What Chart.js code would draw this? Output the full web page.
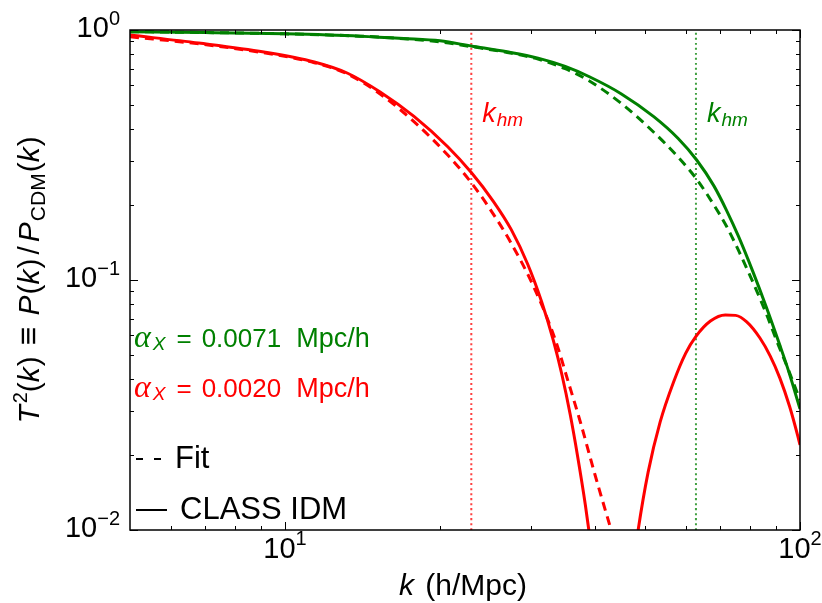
<!DOCTYPE html>
<html>
<head>
<meta charset="utf-8">
<script src="https://cdn.jsdelivr.net/npm/chart.js@4.4.0/dist/chart.umd.min.js"></script>
<style>
html, body { margin: 0; padding: 0; background: #fff; }
canvas { display: block; }
</style>
</head>
<body>
<canvas id="myChart" width="822" height="603"></canvas>
<script>
// values (k in h/Mpc, T^2 dimensionless)
var kGreenClass = [5, 7, 10, 14, 17, 20, 23, 27, 31, 35, 39, 45, 52, 58, 63, 68, 72, 76, 81, 86, 91.4, 95, 100];
var tGreenClass = [0.985, 0.977, 0.965, 0.945, 0.925, 0.905, 0.863, 0.818, 0.772, 0.715, 0.65, 0.555, 0.45, 0.368, 0.302, 0.2385, 0.19, 0.149, 0.108, 0.078, 0.0548, 0.0433, 0.0305];

var kGreenFit = [5, 7, 10, 14, 17, 20, 23, 27, 31, 35, 39, 45, 52, 58, 63, 68, 72, 76, 80.5, 86, 90.2, 95, 100];
var tGreenFit = [0.985, 0.977, 0.965, 0.945, 0.923, 0.897, 0.858, 0.813, 0.765, 0.70, 0.625, 0.508, 0.39, 0.31, 0.253, 0.2, 0.164, 0.131, 0.101, 0.0733, 0.0568, 0.0436, 0.0331];

// CLASS red curve crosses zero near k~43, so it is split by a null
var kRedClass = [5, 6.8, 9.1, 11.4, 13.2, 15.3, 17.8, 20.7, 23, 25.4, 27.5, 29.6, 31.5, 33.2, 34.5, 35.8, 37, 38.3, 39,
                 43,
                 47.8, 48.5, 50.7, 53.5, 56.8, 60, 62.8, 67, 71.6, 75, 78.8, 83.6, 87.5, 91.4, 95.5, 99, 100];
var tRedClass = [0.955, 0.887, 0.817, 0.745, 0.673, 0.565, 0.451, 0.341, 0.269, 0.206, 0.159, 0.1156, 0.0818, 0.0572, 0.0417, 0.0289, 0.0197, 0.0126, 0.0096,
                 null,
                 0.008, 0.01, 0.017, 0.027, 0.039, 0.051, 0.0595, 0.0685, 0.0725, 0.0722, 0.068, 0.0586, 0.0497, 0.0405, 0.0311, 0.0238, 0.0219];

var kRedFit = [5, 6.8, 9.1, 11.4, 13.2, 15.3, 17.8, 20.7, 23, 25.1, 27.4, 30.4, 33.5, 35.5, 37.5, 40, 42.8, 44];
var tRedFit = [0.94, 0.88, 0.81, 0.74, 0.668, 0.555, 0.43, 0.316, 0.245, 0.19, 0.142, 0.094, 0.0575, 0.039, 0.0268, 0.0166, 0.0103, 0.0085];

// half-mode wavenumbers (dotted lines)
var kHalfMode = [23, 62.8];
var halfModeColors = ['rgba(255,0,0,0.75)', 'rgba(0,128,0,0.75)'];

// axis ticks
var xMajor = [10, 100];
var xMajorExp = ['1', '2'];
var yMajor = [0.01, 0.1, 1];
var yMajorExp = ['\u22122', '\u22121', '0'];

var alphaValues = ['0.0071', '0.0020'];

var RED = '#ff0000';
var GREEN = '#008000';
var SANS = '"Liberation Sans", Arial, Helvetica, sans-serif';
var SERIF = '"Liberation Serif", "DejaVu Serif", serif';

function zip(ks, ts) {
    return ks.map(function (k, i) { return { x: k, y: ts[i] }; });
}

function fnt(size, italic, fam) {
    return (italic ? 'italic ' : '') + size + 'px ' + (fam || SANS);
}

function richWidth(ctx, parts) {
    var w = 0;
    parts.forEach(function (p) {
        ctx.font = p.f;
        w += ctx.measureText(p.t).width + (p.gap || 0);
    });
    return w;
}

function drawRich(ctx, parts, x, y, align, color) {
    var w = richWidth(ctx, parts);
    var cx = align === 'center' ? x - w / 2 : (align === 'right' ? x - w : x);
    ctx.textAlign = 'left';
    ctx.textBaseline = 'alphabetic';
    parts.forEach(function (p) {
        ctx.font = p.f;
        ctx.fillStyle = p.c || color;
        ctx.fillText(p.t, cx, y + (p.dy || 0));
        cx += ctx.measureText(p.t).width + (p.gap || 0);
    });
}

function minorValues(min, max) {
    var out = [];
    for (var d = Math.pow(10, Math.floor(Math.log10(min))); d < max; d *= 10) {
        for (var m = 2; m <= 9; m++) {
            var v = d * m;
            if (v > min * 1.0001 && v < max * 0.9999) out.push(v);
        }
    }
    return out;
}

var decorations = {
    id: 'decorations',
    afterDraw: function (chart) {
        var ctx = chart.ctx;
        var a = chart.chartArea;
        var xs = chart.scales.x;
        var ys = chart.scales.y;
        ctx.save();

        // ticks pointing inward on all four sides
        ctx.strokeStyle = '#000';
        ctx.lineWidth = 1;
        ctx.beginPath();
        function xTick(v, len) {
            var px = Math.round(xs.getPixelForValue(v)) + 0.5;
            ctx.moveTo(px, a.bottom); ctx.lineTo(px, a.bottom - len);
            ctx.moveTo(px, a.top); ctx.lineTo(px, a.top + len);
        }
        function yTick(v, len) {
            var py = Math.round(ys.getPixelForValue(v)) + 0.5;
            ctx.moveTo(a.left, py); ctx.lineTo(a.left + len, py);
            ctx.moveTo(a.right, py); ctx.lineTo(a.right - len, py);
        }
        xMajor.forEach(function (v) { xTick(v, 8); });
        minorValues(5, 100).forEach(function (v) { xTick(v, 4); });
        yMajor.forEach(function (v) { yTick(v, 8); });
        minorValues(0.01, 1).forEach(function (v) { yTick(v, 4); });
        ctx.stroke();

        // frame
        ctx.lineWidth = 1.5;
        ctx.strokeRect(a.left, a.top, a.right - a.left, a.bottom - a.top);

        // tick labels
        xMajor.forEach(function (v, i) {
            drawRich(ctx, [
                { t: '10', f: fnt(29) },
                { t: xMajorExp[i], f: fnt(20), dy: -13 }
            ], xs.getPixelForValue(v), a.bottom + 28, 'center', '#000');
        });
        yMajor.forEach(function (v, i) {
            drawRich(ctx, [
                { t: '10', f: fnt(29) },
                { t: yMajorExp[i], f: fnt(20), dy: -12 }
            ], a.left - 10, ys.getPixelForValue(v) + 7, 'right', '#000');
        });

        // x title
        drawRich(ctx, [
            { t: 'k', f: fnt(30, true), gap: 3 },
            { t: ' (h/Mpc)', f: fnt(30) }
        ], (a.left + a.right) / 2 - 2, 595, 'center', '#000');

        // y title, rotated
        ctx.save();
        ctx.translate(39, (a.top + a.bottom) / 2);
        ctx.rotate(-Math.PI / 2);
        drawRich(ctx, [
            { t: 'T', f: fnt(30, true), gap: 2 },
            { t: '2', f: fnt(20), dy: -12 },
            { t: '(', f: fnt(30) },
            { t: 'k', f: fnt(30, true), gap: 1 },
            { t: ')', f: fnt(30), gap: 11 },
            { t: '\u2261', f: fnt(32), gap: 11 },
            { t: 'P', f: fnt(30, true), gap: 1 },
            { t: '(', f: fnt(30) },
            { t: 'k', f: fnt(30, true), gap: 1 },
            { t: ')', f: fnt(30), gap: 4 },
            { t: '/', f: fnt(30), gap: 4 },
            { t: 'P', f: fnt(30, true), gap: 1 },
            { t: 'CDM', f: fnt(21), dy: 6, gap: 1 },
            { t: '(', f: fnt(30) },
            { t: 'k', f: fnt(30, true), gap: 1 },
            { t: ')', f: fnt(30) }
        ], 0, 0, 'center', '#000');
        ctx.restore();

        // k_hm labels next to the dotted lines
        kHalfMode.forEach(function (k, i) {
            var c = i === 0 ? RED : GREEN;
            drawRich(ctx, [
                { t: 'k', f: fnt(27, true), gap: 1 },
                { t: 'hm', f: fnt(19, true), dy: 4 }
            ], xs.getPixelForValue(k) + 11, 122, 'left', c);
        });

        // alpha_X labels
        [GREEN, RED].forEach(function (c, i) {
            drawRich(ctx, [
                { t: '\u03b1', f: fnt(32, true, SERIF), gap: 2 },
                { t: 'X', f: fnt(19, true), dy: 3, gap: 11 },
                { t: '=', f: fnt(26), gap: 10 },
                { t: alphaValues[i], f: fnt(26), gap: 15 },
                { t: 'Mpc/h', f: fnt(27) }
            ], 134, 347 + i * 50, 'left', c);
        });

        // legend
        ctx.strokeStyle = '#000';
        ctx.lineWidth = 2;
        ctx.setLineDash([7, 11]);
        ctx.beginPath();
        ctx.moveTo(136, 459); ctx.lineTo(166, 459);
        ctx.stroke();
        ctx.setLineDash([]);
        ctx.beginPath();
        ctx.moveTo(136, 510); ctx.lineTo(167, 510);
        ctx.stroke();
        drawRich(ctx, [{ t: 'Fit', f: fnt(31) }], 175, 468, 'left', '#000');
        drawRich(ctx, [{ t: 'CLASS IDM', f: fnt(31) }], 180, 519, 'left', '#000');

        ctx.restore();
    }
};

var datasets = [
    { data: zip(kGreenClass, tGreenClass), borderColor: GREEN, borderWidth: 3 },
    { data: zip(kGreenFit, tGreenFit), borderColor: GREEN, borderWidth: 3, borderDash: [9, 6] },
    { data: zip(kRedClass, tRedClass), borderColor: RED, borderWidth: 3 },
    { data: zip(kRedFit, tRedFit), borderColor: RED, borderWidth: 3, borderDash: [9, 6] }
];
kHalfMode.forEach(function (k, i) {
    datasets.push({
        data: [{ x: k, y: yMajor[0] }, { x: k, y: yMajor[yMajor.length - 1] }],
        borderColor: halfModeColors[i], borderWidth: 2, borderDash: [2, 3]
    });
});
datasets.forEach(function (d) {
    d.pointRadius = 0;
    d.fill = false;
    d.spanGaps = false;
    d.cubicInterpolationMode = 'monotone';
});

new Chart(document.getElementById('myChart'), {
    type: 'line',
    data: { datasets: datasets },
    options: {
        responsive: false,
        animation: false,
        devicePixelRatio: 1,
        layout: { padding: { left: 130, right: 22, top: 30, bottom: 73 } },
        plugins: { legend: { display: false }, tooltip: { enabled: false } },
        scales: {
            x: { type: 'logarithmic', min: 5, max: 100, display: false },
            y: { type: 'logarithmic', min: 0.01, max: 1, display: false }
        }
    },
    plugins: [decorations]
});
</script>
</body>
</html>
